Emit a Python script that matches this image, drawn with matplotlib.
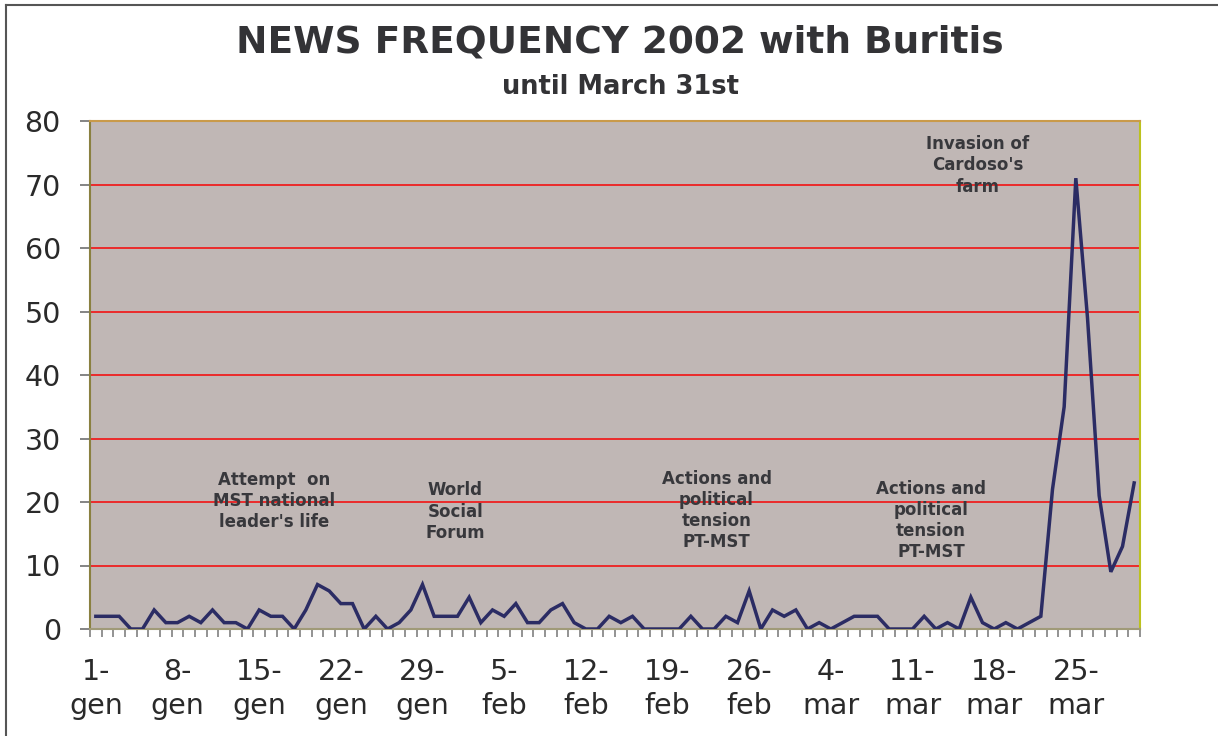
import matplotlib
matplotlib.use("Agg")
import matplotlib.pyplot as plt
from matplotlib.lines import Line2D
import numpy as np

# Daily number of news items, 1 January - 31 March 2002
news_counts = [
    2, 2, 2, 0, 0, 3, 1, 1, 2, 1, 3, 1, 1, 0, 3, 2, 2, 0, 3, 7, 6, 4, 4,
    0, 2, 0, 1, 3, 7, 2, 2, 2, 5, 1, 3, 2, 4, 1, 1, 3, 4, 1, 0, 0, 2,
    1, 2, 0, 0, 0, 0, 2, 0, 0, 2, 1, 6, 0, 3, 2, 3, 0, 1, 0, 1, 2, 2,
    2, 0, 0, 0, 2, 0, 1, 0, 5, 1, 0, 1, 0, 1, 2, 22, 35, 71, 49, 21, 9, 13, 23,
]
tick_days = [0, 7, 14, 21, 28, 35, 42, 49, 56, 63, 70, 77, 84]
tick_labels = ["1-\ngen", "8-\ngen", "15-\ngen", "22-\ngen", "29-\ngen",
               "5-\nfeb", "12-\nfeb", "19-\nfeb", "26-\nfeb",
               "4-\nmar", "11-\nmar", "18-\nmar", "25-\nmar"]
y_ticks = [0, 10, 20, 30, 40, 50, 60, 70, 80]

# Event notes: (day index, value level of the block centre, text)
events = [
    (15.3, 20.2, "Attempt  on\nMST national\nleader's life"),
    (30.8, 18.5, "World\nSocial\nForum"),
    (53.2, 18.7, "Actions and\npolitical\ntension\nPT-MST"),
    (71.6, 17.1, "Actions and\npolitical\ntension\nPT-MST"),
    (75.6, 73.0, "Invasion of\nCardoso's\nfarm"),
]

W, H = 1218, 736
fig = plt.figure(figsize=(W / 100, H / 100), dpi=100)
fig.patch.set_facecolor("white")

ax = fig.add_axes([90 / W, 1 - 629 / H, (1140 - 90) / W, (629 - 121) / H])
ax.set_facecolor("#c0b7b5")

days = np.arange(len(news_counts))
ax.plot(days, news_counts, color="#2b2c64", lw=2.5, solid_joinstyle="miter",
        zorder=3)

ax.set_xlim(-0.5, len(news_counts) - 0.5)
ax.set_ylim(0, 80)

# horizontal red grid
ax.set_yticks(y_ticks)
ax.set_yticklabels([str(v) for v in y_ticks], fontsize=20.5, color="#2a2a2a")
for v in y_ticks[1:-1]:
    ax.axhline(v, color="#ee2020", lw=1.3, zorder=1)
ax.tick_params(axis="y", direction="out", length=7, width=1.2,
               color="#707070", pad=14)

# category axis: labels every week, marks at every day boundary
ax.set_xticks(tick_days)
ax.set_xticklabels(tick_labels, fontsize=20.5, color="#2a2a2a",
                   linespacing=1.25)
ax.set_xticks(np.arange(-0.5, len(news_counts)), minor=True)
ax.tick_params(axis="x", which="major", length=0, pad=21)
ax.tick_params(axis="x", which="minor", direction="out", length=6,
               width=1.2, color="#808080")

ax.spines["top"].set_color("#c99a4a")
ax.spines["right"].set_color("#bcc21e")
ax.spines["left"].set_color("#8a8040")
ax.spines["bottom"].set_color("#a09a78")
for s in ax.spines.values():
    s.set_linewidth(1.5)

for x, y, txt in events:
    ax.text(x, y, txt, ha="center", va="center", fontsize=12,
            fontweight="bold", color="#38383c", linespacing=1.22, zorder=4)

fig.text(620 / W, 1 - 43 / H, "NEWS FREQUENCY 2002 with Buritis",
         ha="center", va="center", fontsize=27, fontweight="bold",
         color="#333336")
fig.text(620 / W, 1 - 87 / H, "until March 31st", ha="center", va="center",
         fontsize=18.5, fontweight="bold", color="#333336")

# outer frame (top and left edges)
fig.add_artist(Line2D([6 / W, 6 / W], [0, 1 - 5 / H], transform=fig.transFigure,
                      color="#555555", lw=1.5))
fig.add_artist(Line2D([6 / W, 1], [1 - 5 / H, 1 - 5 / H], transform=fig.transFigure,
                      color="#555555", lw=1.5))

fig.savefig("out.png", dpi=100)
